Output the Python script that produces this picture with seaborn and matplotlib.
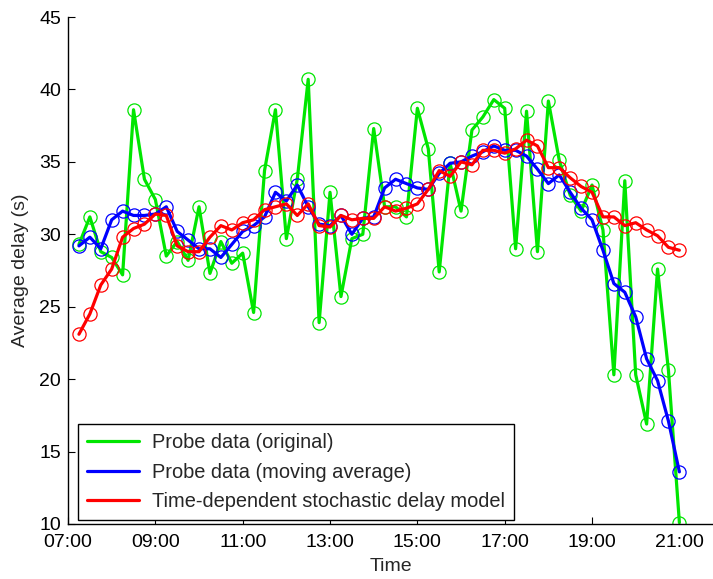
import numpy as np
import pandas as pd
import matplotlib
matplotlib.use("Agg")
import matplotlib.pyplot as plt
import seaborn as sns

# Time of day in hours, 15-minute intervals from 07:15 to 21:00
hours = [7.25 + 0.25 * k for k in range(56)]

# Average delay (s)
probe_original = [
    29.3, 31.2, 28.8, 28.4, 27.2, 38.6, 33.8, 32.4, 28.5, 29.5,
    28.2, 31.9, 27.3, 29.5, 28.0, 28.7, 24.6, 34.4, 38.6, 29.7,
    33.8, 40.7, 23.9, 32.9, 25.7, 29.7, 30.0, 37.3, 31.9, 31.9,
    31.2, 38.7, 35.9, 27.4, 34.9, 31.6, 37.2, 38.1, 39.3, 38.7,
    29.0, 38.5, 28.8, 39.2, 35.1, 32.7, 31.6, 33.4, 30.3, 20.3,
    33.7, 20.3, 16.9, 27.6, 20.6, 10.1,
]
probe_moving_avg = [
    29.2, 29.8, 29.0, 31.0, 31.6, 31.3, 31.3, 31.4, 31.9, 30.2,
    29.6, 29.0, 29.0, 28.4, 29.3, 30.2, 30.6, 31.2, 32.9, 32.3,
    33.4, 31.9, 30.7, 30.6, 31.3, 30.0, 31.1, 31.2, 33.2, 33.8,
    33.5, 33.2, 33.1, 34.2, 34.9, 35.0, 35.4, 35.7, 36.1, 35.8,
    35.8, 35.4, 34.5, 33.5, 34.1, 32.9, 31.8, 31.0, 28.9, 26.6,
    26.0, 24.3, 21.4, 19.9, 17.1, 13.6,
]
delay_model = [
    23.1, 24.5, 26.5, 27.6, 29.8, 30.4, 30.7, 31.4, 31.3, 29.2,
    28.8, 28.8, 29.8, 30.6, 30.3, 30.8, 31.0, 31.7, 31.9, 32.1,
    31.3, 32.1, 30.6, 30.5, 31.3, 31.0, 31.1, 31.1, 31.9, 31.6,
    31.8, 32.1, 33.1, 34.4, 34.0, 35.0, 34.8, 35.8, 35.8, 35.6,
    35.9, 36.5, 36.1, 34.6, 34.6, 33.9, 33.3, 32.9, 31.2, 31.2,
    30.6, 30.8, 30.3, 29.9, 29.1, 28.9,
]

series_labels = [
    "Probe data (original)",
    "Probe data (moving average)",
    "Time-dependent stochastic delay model",
]
series_colors = ["#00e600", "#0000ff", "#ff0000"]

tick_hours = [7, 9, 11, 13, 15, 17, 19, 21]
tick_labels = ["07:00", "09:00", "11:00", "13:00", "15:00", "17:00", "19:00", "21:00"]
y_ticks = [10, 15, 20, 25, 30, 35, 40, 45]

sns.set_style("white")
plt.rcParams["font.family"] = ["Liberation Sans", "DejaVu Sans"]

fig = plt.figure(figsize=(7.13, 5.79), dpi=100)
ax = fig.add_axes([0.0954, 0.095, 0.9046, 0.8756])

frame = pd.DataFrame({"hour": hours})
for values, label, color in zip(
    [probe_original, probe_moving_avg, delay_model], series_labels, series_colors
):
    frame["delay"] = values
    sns.lineplot(
        data=frame, x="hour", y="delay", ax=ax, color=color, label=label,
        estimator=None, sort=False, linewidth=2.3,
        marker="o", markersize=9.5, markerfacecolor="none",
        markeredgecolor=color, markeredgewidth=0.9,
    )

# Legend shows line samples only
leg = ax.legend(
    loc="lower left", bbox_to_anchor=(0.016, 0.008), fontsize=14.4,
    frameon=True, fancybox=False, edgecolor="black", framealpha=1,
    handlelength=2.6, handletextpad=0.65, labelspacing=0.52, borderpad=0.45,
    borderaxespad=0,
)
leg.get_frame().set_linewidth(1.0)
for h in leg.legend_handles:
    h.set_marker("")
    h.set_linewidth(2.3)

ax.set_xlim(7, 21.77)
ax.set_ylim(10, 45)
ax.set_xticks(tick_hours)
ax.set_xticklabels(tick_labels)
ax.set_yticks(y_ticks)
ax.tick_params(direction="in", length=5, width=0.8, labelsize=14,
               colors="black", bottom=True, left=True)
ax.tick_params(axis="x", pad=7)
ax.tick_params(axis="y", pad=5)
for side in ["top", "right"]:
    ax.spines[side].set_visible(False)
for side in ["left", "bottom"]:
    ax.spines[side].set_color("black")
    ax.spines[side].set_linewidth(1.0)

ax.set_xlabel("Time", fontsize=14, labelpad=5)
ax.set_ylabel("Average delay (s)", fontsize=14, labelpad=7)

fig.savefig("out.png", dpi=100)
